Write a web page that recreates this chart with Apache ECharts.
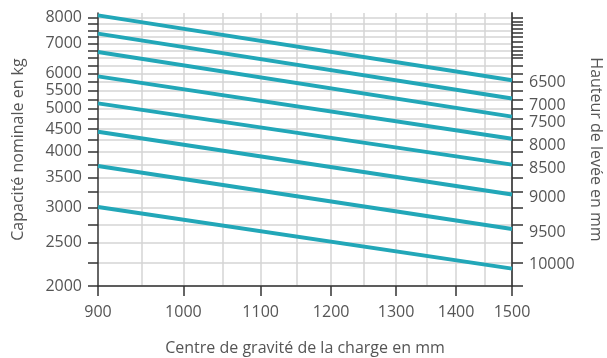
<!DOCTYPE html>
<html>
<head>
<meta charset="utf-8">
<script src="https://cdn.jsdelivr.net/npm/echarts@6/dist/echarts.min.js"></script>
<style>html,body{margin:0;padding:0;background:#fff}#c{width:607px;height:358px}</style>
</head>
<body>
<div id="c"></div>
<script>
// ---- data ----
const distances = [900, 1500];                 // centre de gravité (mm)
const liftHeights = [6500, 7000, 7500, 8000, 8500, 9000, 9500, 10000];
const cap_h6500  = [8100, 5790];
const cap_h7000  = [7370, 5270];
const cap_h7500  = [6700, 4800];
const cap_h8000  = [5910, 4280];
const cap_h8500  = [5140, 3745];
const cap_h9000  = [4440, 3210];
const cap_h9500  = [3720, 2685];
const cap_h10000 = [3010, 2188];
const capacities = [cap_h6500, cap_h7000, cap_h7500, cap_h8000, cap_h8500, cap_h9000, cap_h9500, cap_h10000];

const xTickLabels = [900, 1000, 1100, 1200, 1300, 1400, 1500];
const xGridValues = [950, 1000, 1050, 1100, 1150, 1200, 1250, 1300, 1350, 1400, 1450];
const yTickLabels = [2000, 2500, 3000, 3500, 4000, 4500, 5000, 5500, 6000, 7000, 8000];
const yTickValues = [2000, 2250, 2500, 2750, 3000, 3250, 3500, 3750, 4000, 4250, 4500, 4750,
                     5000, 5250, 5500, 5750, 6000, 6250, 6500, 6750, 7000, 7250, 7500, 7750, 8000];
const rightTickValues = [2000, 2250, 2500, 2750, 3000, 3250, 3500, 3750, 4000, 4250, 4500, 4750,
                     5000, 5250, 5500, 5750, 6000, 6250, 6500, 6600, 6750, 6900, 7050, 7250, 7400,
                     7550, 7700, 7850, 8000];
const xRange = [900, 1500];
const yRange = [2000, 8200];

// ---- styles ----
const endLabelOffsets = [2, 6.5, 5.5, 6.5, 3.5, 2.5, 3, -4];
const FONT = 'Open Sans';
const FS = 16;
const TXT = '#555';
const LINE = '#22a7b8';

const lg = v => Math.log10(v);
const fmt = v => String(Math.round(Math.pow(10, v)));

const chart = echarts.init(document.getElementById('c'), null, {renderer: 'canvas'});

const series = capacities.map((cap, i) => ({
  type: 'line',
  xAxisIndex: 0,
  yAxisIndex: 0,
  data: distances.map((d, j) => [lg(d), lg(cap[j])]),
  showSymbol: false,
  symbol: 'none',
  lineStyle: {color: LINE, width: 4},
  endLabel: {
    show: true,
    formatter: () => String(liftHeights[i]),
    distance: 17,
    offset: [0, endLabelOffsets[i]],
    color: TXT,
    fontSize: FS,
    fontFamily: FONT
  }
}));

chart.setOption({
  animation: false,
  grid: {left: 98, right: 95, top: 13, bottom: 72, outerBoundsMode: 'none', containLabel: false},
  xAxis: [
    {
      type: 'value', min: lg(xRange[0]), max: lg(xRange[1]), position: 'bottom',
      axisLine: {show: true, onZero: false, lineStyle: {color: '#333', width: 1.5}},
      axisTick: {show: true, customValues: xTickLabels.map(lg), length: 10, lineStyle: {color: '#333', width: 1.5}},
      axisLabel: {customValues: xTickLabels.map(lg), formatter: fmt, margin: 18, color: TXT, fontSize: FS, fontFamily: FONT},
      splitLine: {show: false},
      name: 'Centre de gravité de la charge en mm',
      nameLocation: 'middle', nameGap: 54,
      nameTextStyle: {color: TXT, fontSize: FS, fontFamily: FONT}
    },
    {
      type: 'value', min: lg(xRange[0]), max: lg(xRange[1]), position: 'bottom',
      axisLine: {show: false},
      axisTick: {show: false, customValues: xGridValues.map(lg)},
      axisLabel: {show: false},
      splitLine: {show: true, lineStyle: {color: '#d4d4d4', width: 1.5}}
    }
  ],
  yAxis: [
    {
      type: 'value', min: lg(yRange[0]), max: lg(yRange[1]), position: 'left',
      axisLine: {show: true, onZero: false, lineStyle: {color: '#333', width: 1.5}},
      axisTick: {show: true, customValues: yTickValues.map(lg), length: 10, lineStyle: {color: '#333', width: 1.5}},
      axisLabel: {customValues: yTickLabels.map(lg), formatter: fmt, margin: 16, color: TXT, fontSize: FS, fontFamily: FONT},
      splitLine: {show: true, lineStyle: {color: '#d4d4d4', width: 1.5}},
      name: 'Capacité nominale en kg',
      nameLocation: 'middle', nameGap: 72, nameRotate: 90,
      nameTextStyle: {color: TXT, fontSize: FS, fontFamily: FONT}
    },
    {
      type: 'value', min: lg(yRange[0]), max: lg(yRange[1]), position: 'right',
      axisLine: {show: true, onZero: false, lineStyle: {color: '#555', width: 2}},
      axisTick: {show: true, customValues: rightTickValues.map(lg), length: 11, lineStyle: {color: '#333', width: 1.5}},
      axisLabel: {show: false},
      splitLine: {show: false},
      name: 'Hauteur de levée en mm',
      nameLocation: 'middle', nameGap: 76, nameRotate: -90,
      nameTextStyle: {color: TXT, fontSize: FS, fontFamily: FONT}
    }
  ],
  series: series
});
</script>
</body>
</html>
